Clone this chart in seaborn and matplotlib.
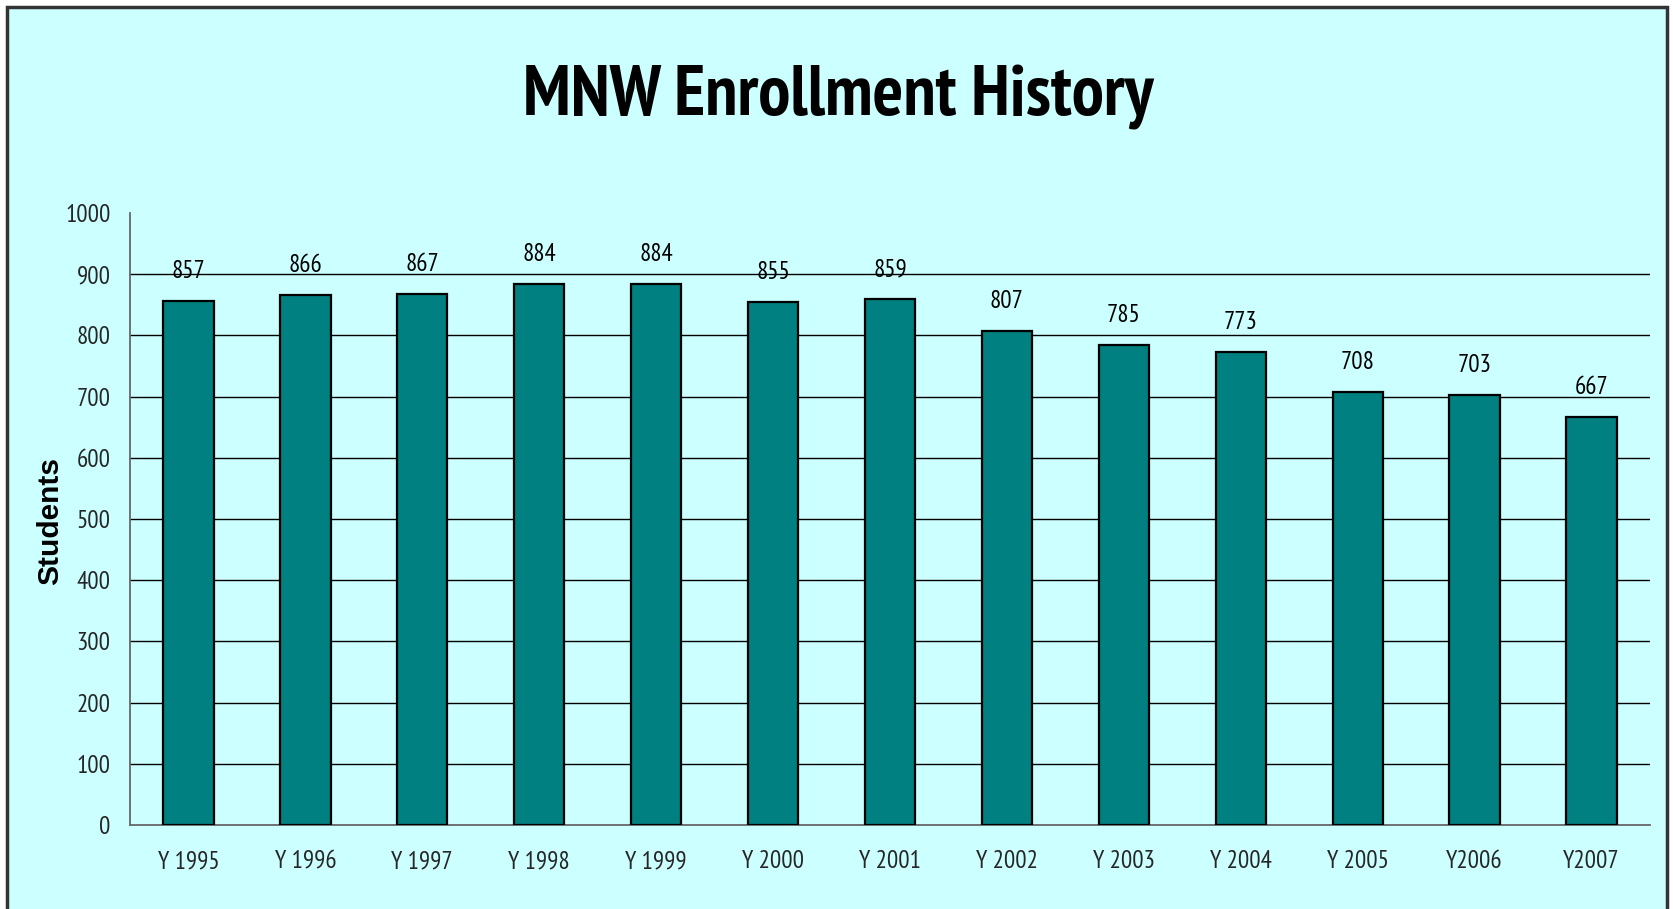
import matplotlib
matplotlib.use("Agg")
import matplotlib.pyplot as plt
from matplotlib.patches import Rectangle
from matplotlib import font_manager as fm
import seaborn as sns
import pandas as pd

years = ["Y 1995", "Y 1996", "Y 1997", "Y 1998", "Y 1999", "Y 2000", "Y 2001",
         "Y 2002", "Y 2003", "Y 2004", "Y 2005", "Y2006", "Y2007"]
students = [857, 866, 867, 884, 884, 855, 859, 807, 785, 773, 708, 703, 667]
yticks = [0, 100, 200, 300, 400, 500, 600, 700, 800, 900, 1000]

sns.set_style("white")


def wnum(w):
    if isinstance(w, (int, float)):
        return w
    return {"bold": 700, "heavy": 800, "black": 900, "semibold": 600,
            "demibold": 600}.get(str(w).lower(), 400)


available = {}
for f in fm.fontManager.ttflist:
    available.setdefault(f.name, set()).add(wnum(f.weight))

prefs = ["Arial Narrow", "Liberation Sans Narrow", "PT Sans Narrow",
         "Archivo Narrow", "Roboto Condensed", "Pragati Narrow",
         "IBM Plex Sans Condensed", "Fira Sans Condensed", "Encode Sans Condensed"]
reg_name = next((n for n in prefs if n in available), "Liberation Sans")
bold_name = next((n for n in prefs if n in available and max(available[n]) >= 700),
                 "Liberation Sans")
plt.rcParams["font.family"] = [reg_name, "Liberation Sans", "DejaVu Sans"]

BG = "#CCFFFF"
BAR = "#008080"

W, H = 1673, 909
fig = plt.figure(figsize=(W / 100, H / 100), dpi=100, facecolor="white")
fig.patches.append(Rectangle((7 / W, -0.05), (1667 - 7) / W, 1 - 7 / H + 0.05,
                             transform=fig.transFigure, facecolor=BG,
                             edgecolor="#333333", linewidth=2.5, zorder=-10))

ax = fig.add_axes([130 / W, 1 - 825 / H, (1650 - 130) / W, (825 - 213) / H])
ax.patch.set_alpha(0)

df = pd.DataFrame({"year": years, "students": students})
sns.barplot(data=df, x="year", y="students", color=BAR, saturation=1,
            edgecolor="black", linewidth=1.6, width=0.43, ax=ax, zorder=3)

ax.set_ylim(0, 1000)
ax.set_xlim(-0.5, len(years) - 0.5)
ax.set_yticks(yticks)
ax.set_yticklabels([str(v) for v in yticks], fontsize=18)
for v in yticks[1:-1]:
    ax.axhline(v, color="black", linewidth=1.0, zorder=1)

ax.set_xticks([i - 0.5 for i in range(len(years) + 1)], minor=False)
ax.set_xticklabels([])
ax.set_xticks(range(len(years)), minor=True)
ax.set_xticklabels(years, minor=True, fontsize=18)
ax.tick_params(axis="x", which="minor", length=0, pad=18)
ax.tick_params(axis="x", which="major", length=7, width=1.2, color="#555555", direction="out")
ax.tick_params(axis="y", length=6, width=1.2, color="#555555", direction="out", pad=8)
ax.set_xlabel("")
ax.set_ylabel("")

for s in ["top", "right"]:
    ax.spines[s].set_visible(False)
for s in ["left", "bottom"]:
    ax.spines[s].set_color("#666666")
    ax.spines[s].set_linewidth(1.3)

for i, v in enumerate(students):
    ax.annotate(str(v), (i, v), xytext=(0, 16.5), textcoords="offset points",
                ha="center", va="baseline", fontsize=18, color="black")

title = fig.text(838 / W, 1 - 115 / H, "MNW Enrollment History", ha="center",
                 va="baseline", fontsize=47, fontweight="bold", color="black",
                 family=[bold_name, "Liberation Sans", "DejaVu Sans"])
renderer = fig.canvas.get_renderer()
w = title.get_window_extent(renderer).width
title.set_fontsize(47 * 629 / w)

fig.text(50 / W, 1 - 521 / H, "Students", rotation=90, ha="center", va="center",
         fontsize=21.5, fontweight="bold", color="black",
         family=["Liberation Sans", "DejaVu Sans"])

fig.savefig("out.png", dpi=100, facecolor="white")
